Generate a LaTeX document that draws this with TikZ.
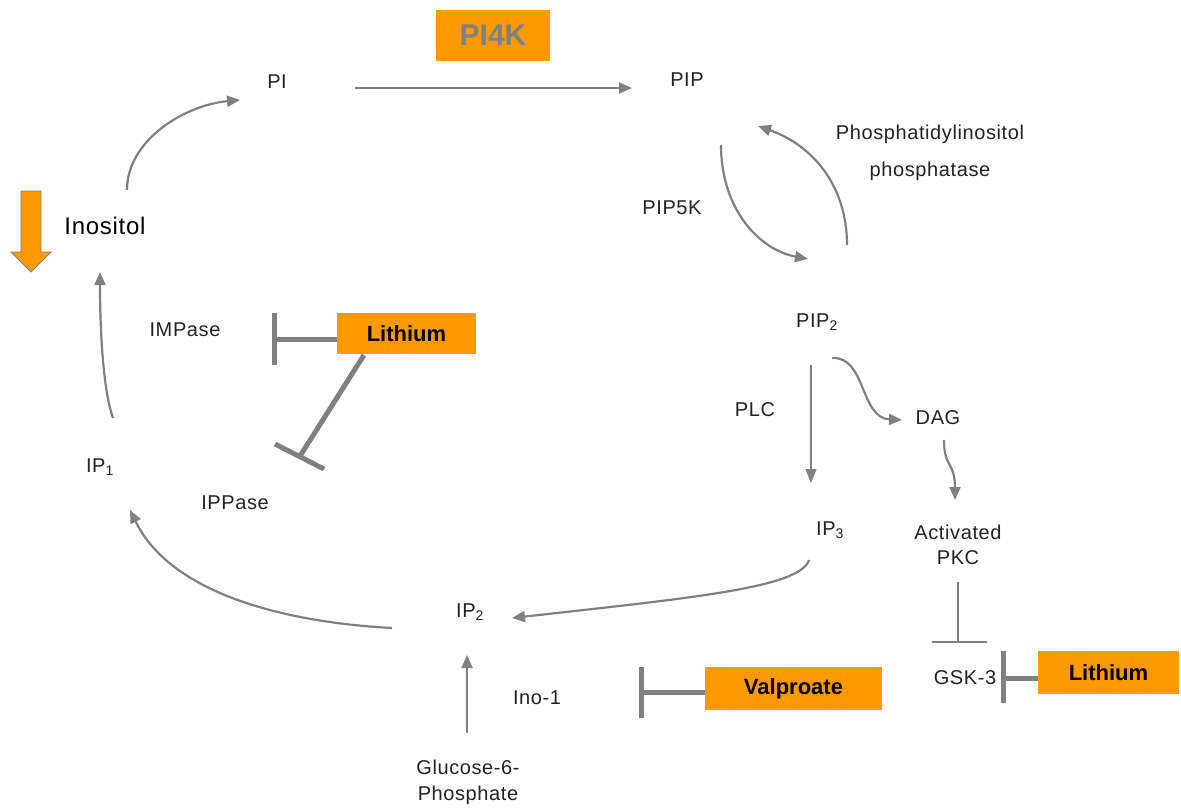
\documentclass[tikz,border=0pt]{standalone}
\usepackage{fontspec}
\setmainfont{Liberation Sans}
\usetikzlibrary{arrows.meta}
\definecolor{org}{HTML}{FF9900}
\definecolor{gr}{HTML}{808080}
\definecolor{txt}{HTML}{222222}
\newfontfamily\lblfont[LetterSpace=3]{Liberation Sans}
\begin{document}
\begin{tikzpicture}[x=1pt,y=-1pt,
  lbl/.style={font=\lblfont\fontsize{20}{24}\selectfont, text=txt, inner sep=0pt, align=center},
  drug/.style={fill=org, font=\bfseries\fontsize{22}{26}\selectfont, text=black, inner sep=0pt},
  conn/.style={draw=gr, line width=2.2pt, -{Triangle[length=13pt,width=11pt]}},
  thinconn/.style={draw=gr, line width=1.3pt, -{Triangle[length=14pt,width=11pt]}},
  inh/.style={draw=gr, line width=5pt},
  thininh/.style={draw=gr, line width=1.3pt},
]
\useasboundingbox (0,0) rectangle (1181,807);

% drug boxes
\node[drug, minimum width=114pt, minimum height=51pt, text=gr, font=\bfseries\fontsize{30}{34}\selectfont] (pi4k) at (493,35.5) {PI4K};
\node[drug, minimum width=139pt, minimum height=41pt] (li1) at (406.5,333.5) {Lithium};
\node[drug, minimum width=177pt, minimum height=43pt] (val) at (793.5,688.5) {Valproate};
\node[drug, minimum width=141pt, minimum height=43pt] (li2) at (1108.5,672.5) {Lithium};

% labels
\node[lbl] (pi) at (277,82) {PI};
\node[lbl] (pip) at (687,80) {PIP};
\node[lbl, font=\lblfont\fontsize{24}{28}\selectfont, text=black] (ino) at (105,226) {Inositol};
\node[lbl] (impase) at (185,330) {IMPase};
\node[lbl] (ippase) at (235,503) {IPPase};
\node[lbl] (ip1) at (100,467) {IP\textsubscript{1}};
\node[lbl] (ip2) at (470,612) {IP\textsubscript{2}};
\node[lbl] (ip3) at (830,530) {IP\textsubscript{3}};
\node[lbl] (pip2) at (817,322) {PIP\textsubscript{2}};
\node[lbl] (pip5k) at (672,208) {PIP5K};
\node[lbl, font=\lblfont\fontsize{20}{37}\selectfont] (ptase) at (930,153) {Phosphatidylinositol\\phosphatase};
\node[lbl] (plc) at (755,410) {PLC};
\node[lbl] (dag) at (938,418) {DAG};
\node[lbl, font=\lblfont\fontsize{20}{25}\selectfont] (pkc) at (958,545) {Activated\\PKC};
\node[lbl] (gsk) at (965,678) {GSK-3};
\node[lbl] (ino1) at (537,698) {Ino-1};
\node[lbl, font=\lblfont\fontsize{20}{26}\selectfont] (g6p) at (468,782) {Glucose-6-\\Phosphate};

% orange down arrow
\draw[fill=org, draw=gr, line width=0.8pt] (21,191) -- (41,191) -- (41,252) -- (51,252) -- (31,272) -- (11,252) -- (21,252) -- cycle;

% connector end points
\coordinate (inoS) at (127,190); \coordinate (piE) at (240,100);
\coordinate (piS) at (355,88); \coordinate (pipE) at (632,88);
\coordinate (pipS) at (721,145); \coordinate (pip2E) at (808,259);
\coordinate (pip2S) at (847,245); \coordinate (pipE2) at (758,126);
\coordinate (pip2S2) at (832,358); \coordinate (dagE) at (902,420);
\coordinate (dagS) at (944,440); \coordinate (pkcE) at (955,500);
\coordinate (pip2S3) at (811,365); \coordinate (ip3E) at (811,483);
\coordinate (ip3S) at (809,560); \coordinate (ip2E) at (512,618);
\coordinate (ip2S) at (392,628); \coordinate (ip1E) at (130,510);
\coordinate (ip1S) at (113,418); \coordinate (inoE) at (100,272);
\coordinate (g6pS) at (467,733); \coordinate (ip2E2) at (467,655);

% connectors
\draw[conn] (inoS) .. controls (127,140) and (185,105) .. (piE);
\draw[conn] (piS) -- (pipE);
\draw[conn] (pipS) .. controls (721,210) and (760,250) .. (pip2E);
\draw[conn] (pip2S) .. controls (847,185) and (812,145) .. (pipE2);
\draw[conn] (pip2S2) .. controls (866,356) and (860,418) .. (dagE);
\draw[conn] (dagS) .. controls (944,468) and (955,462) .. (pkcE);
\draw[thinconn] (pip2S3) -- (ip3E);
\draw[conn] (ip3S) .. controls (800,588) and (690,598) .. (ip2E);
\draw[conn] (ip2S) .. controls (280,622) and (170,592) .. (ip1E);
\draw[conn] (ip1S) .. controls (103,390) and (100,330) .. (inoE);
\draw[conn] (g6pS) -- (ip2E2);

% inhibitions
\coordinate (b1a) at (274,313); \coordinate (b1b) at (274,365); \coordinate (b1c) at (274,339);
\draw[inh] (li1.west |- b1c) -- (b1c);
\draw[inh] (b1a) -- (b1b);
\coordinate (l2s) at (364,355); \coordinate (b2c) at (300,456);
\coordinate (b2a) at (275,444); \coordinate (b2b) at (324,469);
\draw[inh] (l2s) -- (b2c);
\draw[inh] (b2a) -- (b2b);
\coordinate (b3a) at (641,667); \coordinate (b3b) at (641,718); \coordinate (b3c) at (641,692);
\draw[inh] (val.west |- b3c) -- (b3c);
\draw[inh] (b3a) -- (b3b);
\coordinate (b4a) at (1003,651); \coordinate (b4b) at (1003,703); \coordinate (b4c) at (1003,678);
\draw[inh] (li2.west |- b4c) -- (b4c);
\draw[inh] (b4a) -- (b4b);
\coordinate (pkcS) at (958,582); \coordinate (b5c) at (958,642);
\coordinate (b5a) at (932,642); \coordinate (b5b) at (987,642);
\draw[thininh] (pkcS) -- (b5c);
\draw[thininh] (b5a) -- (b5b);
\end{tikzpicture}
\end{document}
